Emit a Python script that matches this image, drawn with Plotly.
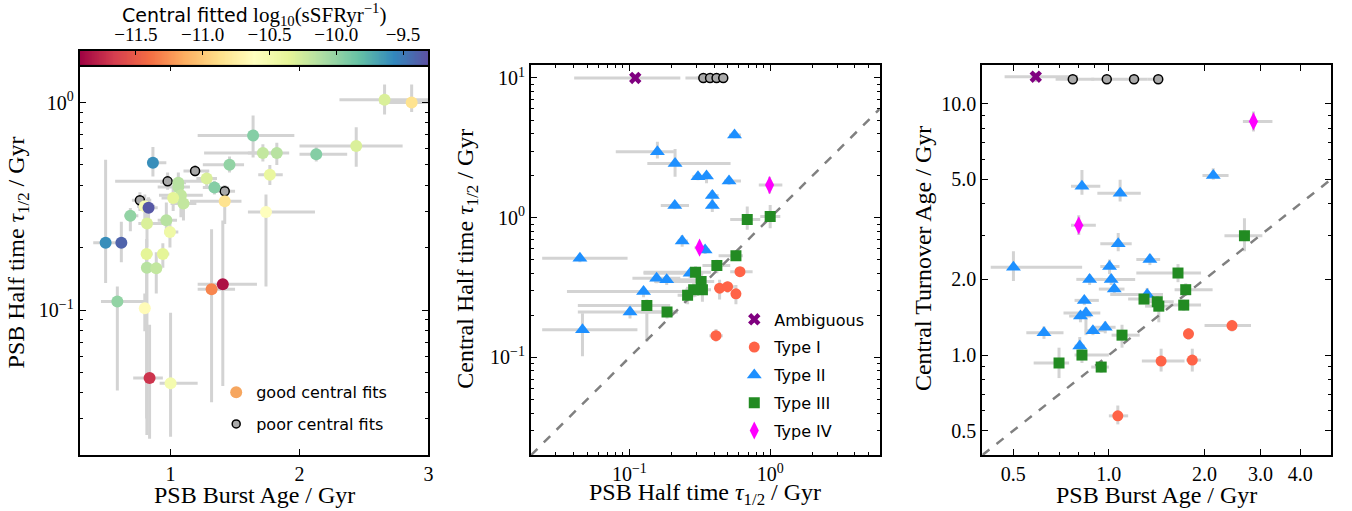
import numpy as np
import plotly.graph_objects as go

# ------------------------------------------------------------------ data
# Left panel: PSB burst age vs PSB half time, coloured by central sSFR (good fits)
left_age = [2.66, 2.87, 1.64, 1.716, 1.824, 2.13, 2.44, 0.863, 1.457, 1.77, 1.28, 1.74,
            1.06, 1.06, 1.08, 1.34, 1.42, 1.02, 1.10, 0.80, 0.829, 0.688, 0.817, 0.967,
            0.995, 0.496, 0.618, 0.814, 0.94, 0.816, 0.889, 1.318, 1.405, 0.587, 0.80,
            0.837, 1.00]
left_age_lo = [2.31, 2.62, 1.21, 1.26, 1.60, 2.00, 2.00, 0.82, 1.25, 1.68, 1.20, 1.60,
               0.92, 0.90, 0.91, 1.25, 1.15, 0.93, 1.00, 0.74, 0.76, 0.64, 0.75, 0.90,
               0.95, 0.40, 0.58, 0.78, 0.90, 0.78, 0.86, 1.21, 1.21, 0.46, 0.77,
               0.71, 0.915]
left_age_hi = [3.00, 3.05, 1.96, 1.85, 1.92, 2.37, 2.80, 0.967, 1.57, 1.87, 1.36, 2.12,
               1.12, 1.15, 1.25, 1.45, 1.55, 1.10, 1.20, 0.88, 0.90, 0.75, 0.95, 1.05,
               1.06, 0.60, 0.66, 0.86, 0.99, 0.86, 0.92, 1.50, 1.67, 0.81, 0.84,
               0.94, 1.21]
left_tau = [1.03, 1.00, 0.694, 0.571, 0.571, 0.563, 0.617, 0.513, 0.502, 0.449, 0.43, 0.297,
            0.411, 0.392, 0.357, 0.389, 0.334, 0.347, 0.326, 0.316, 0.311, 0.285, 0.261, 0.271,
            0.238, 0.211, 0.211, 0.186, 0.186, 0.160, 0.159, 0.126, 0.133, 0.110, 0.102,
            0.047, 0.0444]
left_tau_lo = [0.876, 0.90, 0.544, 0.52, 0.50, 0.52, 0.49, 0.44, 0.46, 0.40, 0.39, 0.13,
               0.37, 0.35, 0.28, 0.36, 0.26, 0.30, 0.27, 0.27, 0.27, 0.24, 0.20, 0.23,
               0.20, 0.135, 0.17, 0.03, 0.16, 0.025, 0.12, 0.036, 0.043, 0.041, 0.079,
               0.024, 0.0245]
left_tau_hi = [1.22, 1.22, 0.866, 0.63, 0.64, 0.61, 0.76, 0.61, 0.55, 0.50, 0.47, 0.36,
               0.46, 0.44, 0.40, 0.42, 0.40, 0.40, 0.37, 0.36, 0.35, 0.31, 0.30, 0.33,
               0.28, 0.53, 0.266, 0.22, 0.21, 0.19, 0.19, 0.245, 0.27, 0.13, 0.12,
               0.085, 0.097]
left_ssfr = [-10.30, -10.85, -9.95, -10.20, -10.15, -9.95, -10.30, -9.60, -10.00, -10.40, -10.30, -10.60,
             -10.15, -10.15, -10.20, -9.95, -10.85, -10.35, -10.20, -10.55, -9.35, -10.00, -10.30, -10.15,
             -10.45, -9.60, -9.40, -10.35, -10.35, -10.15, -10.20, -11.30, -11.85, -10.00, -10.65,
             -11.70, -10.50]
# Left panel: poor central fits
lp_age = [0.762, 0.977, 1.19, 1.42]
lp_age_lo = [0.70, 0.57, 1.10, 1.35]
lp_age_hi = [0.85, 1.25, 1.30, 1.50]
lp_tau = [0.338, 0.417, 0.468, 0.374]
lp_tau_lo = [0.30, 0.38, 0.44, 0.35]
lp_tau_hi = [0.37, 0.46, 0.50, 0.40]

# Middle panel: PSB half time vs central half time, per type
mid = {
    "Ambiguous": dict(x=[0.110], xlo=[0.0405], xhi=[0.23], y=[10.0], ylo=[10.0], yhi=[10.0]),
    "Type I": dict(x=[0.61, 0.437, 0.498, 0.571, 0.412],
                   xlo=[0.52, 0.40, 0.45, 0.54, 0.37], xhi=[0.75, 0.47, 0.56, 0.60, 0.46],
                   y=[0.411, 0.313, 0.321, 0.285, 0.143],
                   ylo=[0.38, 0.26, 0.29, 0.24, 0.13], yhi=[0.44, 0.36, 0.35, 0.33, 0.16]),
    "Type II": dict(x=[0.558, 0.158, 0.211, 0.307, 0.353, 0.51, 0.388, 0.388, 0.21, 0.237, 0.345,
                       0.0445, 0.156, 0.184, 0.27, 0.126, 0.101, 0.0464],
                    xlo=[0.51, 0.080, 0.134, 0.28, 0.33, 0.47, 0.36, 0.36, 0.167, 0.22, 0.32,
                         0.024, 0.105, 0.14, 0.126, 0.036, 0.043, 0.024],
                    xhi=[0.62, 0.207, 0.523, 0.33, 0.38, 0.62, 0.43, 0.42, 0.265, 0.26, 0.37,
                         0.097, 0.23, 0.30, 0.335, 0.27, 0.22, 0.114],
                    y=[3.90, 2.96, 2.44, 1.96, 1.99, 1.83, 1.44, 1.22, 1.22, 0.682, 0.588,
                       0.512, 0.368, 0.359, 0.40, 0.296, 0.211, 0.158],
                    ylo=[3.7, 2.65, 1.96, 1.85, 1.76, 1.72, 1.30, 1.10, 1.15, 0.62, 0.55,
                         0.48, 0.34, 0.33, 0.37, 0.27, 0.19, 0.102],
                    yhi=[4.2, 3.5, 3.1, 2.1, 2.13, 1.95, 1.58, 1.30, 1.30, 0.75, 0.63,
                         0.55, 0.40, 0.39, 0.43, 0.32, 0.23, 0.207]),
    "Type III": dict(x=[0.687, 1.0, 0.571, 0.418, 0.295, 0.323, 0.33, 0.286, 0.259, 0.133, 0.185],
                     xlo=[0.52, 0.85, 0.43, 0.33, 0.126, 0.15, 0.28, 0.25, 0.22, 0.043, 0.12],
                     xhi=[0.85, 1.18, 0.64, 0.52, 0.38, 0.40, 0.38, 0.33, 0.30, 0.195, 0.22],
                     y=[0.972, 1.02, 0.533, 0.454, 0.407, 0.349, 0.305, 0.305, 0.278, 0.235, 0.211],
                     ylo=[0.82, 0.84, 0.49, 0.40, 0.37, 0.30, 0.25, 0.27, 0.24, 0.13, 0.19],
                     yhi=[1.20, 1.23, 0.58, 0.50, 0.45, 0.40, 0.35, 0.34, 0.32, 0.26, 0.23]),
    "Type IV": dict(x=[0.99, 0.315], xlo=[0.83, 0.29], xhi=[1.22, 0.34],
                    y=[1.71, 0.61], ylo=[1.49, 0.56], yhi=[1.96, 0.67]),
}
mid_poor = dict(x=[0.335, 0.374, 0.416, 0.464], xlo=[0.25, 0.30, 0.36, 0.42], xhi=[0.40, 0.44, 0.46, 0.47],
                y=[10.0, 10.0, 10.0, 10.0], ylo=[10.0] * 4, yhi=[10.0] * 4)

# Right panel: PSB burst age vs central turnover age, per type
right = {
    "Ambiguous": dict(x=[0.589], xlo=[0.47], xhi=[0.80], y=[12.8], ylo=[12.2], yhi=[13.3]),
    "Type I": dict(x=[2.44, 1.78, 1.46, 1.83, 1.067],
                   xlo=[2.0, 1.72, 1.27, 1.75, 1.0], xhi=[2.8, 1.85, 1.73, 1.95, 1.15],
                   y=[1.31, 1.215, 0.946, 0.955, 0.573],
                   ylo=[1.24, 1.15, 0.86, 0.86, 0.53], yhi=[1.38, 1.28, 1.06, 1.06, 0.63]),
    "Type II": dict(x=[0.823, 1.085, 2.13, 1.07, 0.501, 1.346, 1.005, 0.87, 1.017, 1.04, 1.32,
                       0.837, 0.847, 0.814, 0.891, 0.974, 0.625, 0.81],
                    xlo=[0.76, 0.92, 1.97, 0.94, 0.425, 1.22, 0.94, 0.79, 0.92, 0.93, 1.01,
                         0.78, 0.72, 0.75, 0.84, 0.90, 0.55, 0.78],
                    xhi=[0.94, 1.26, 2.38, 1.18, 0.824, 1.45, 1.08, 0.96, 1.21, 1.12, 1.48,
                         0.93, 0.94, 0.88, 0.97, 1.05, 0.72, 0.84],
                    y=[4.69, 4.40, 5.18, 2.77, 2.235, 2.40, 2.25, 2.0, 2.0, 1.83, 1.74,
                       1.65, 1.47, 1.43, 1.25, 1.29, 1.226, 1.086],
                    ylo=[4.34, 4.08, 4.98, 2.59, 1.97, 2.28, 2.1, 1.9, 1.9, 1.75, 1.65,
                         1.58, 1.20, 1.35, 1.2, 1.22, 1.16, 1.0],
                    yhi=[5.45, 4.98, 5.53, 3.06, 2.59, 2.52, 2.4, 2.1, 2.1, 1.92, 1.85,
                         1.72, 1.55, 1.5, 1.3, 1.36, 1.30, 1.18]),
    "Type III": dict(x=[2.67, 1.65, 1.745, 1.29, 1.42, 1.436, 1.72, 1.10, 0.823, 0.697, 0.946],
                     xlo=[2.31, 1.22, 1.61, 1.15, 1.28, 1.3, 1.55, 1.02, 0.78, 0.58, 0.88],
                     xhi=[3.04, 1.95, 2.12, 1.45, 1.6, 1.55, 1.95, 1.25, 1.0, 0.75, 1.0],
                     y=[2.98, 2.12, 1.82, 1.67, 1.63, 1.565, 1.58, 1.20, 1.0, 0.93, 0.896],
                     ylo=[2.59, 1.95, 1.72, 1.6, 1.55, 1.35, 1.5, 1.07, 0.93, 0.81, 0.85],
                     yhi=[3.5, 2.3, 1.93, 1.75, 1.72, 1.65, 1.66, 1.32, 1.07, 1.07, 0.95]),
    "Type IV": dict(x=[2.85, 0.804], xlo=[2.64, 0.76], xhi=[3.27, 0.91],
                    y=[8.5, 3.28], ylo=[7.75, 3.0], yhi=[9.3, 3.6]),
}
right_poor = dict(x=[0.77, 0.985, 1.2, 1.43], xlo=[0.68, 0.88, 1.10, 1.32], xhi=[0.90, 1.10, 1.32, 1.45],
                  y=[12.5, 12.5, 12.5, 12.5], ylo=[12.5] * 4, yhi=[12.5] * 4)

# colour-bar limits and axis ranges
CMIN, CMAX = -11.92, -9.31
cb_ticks = [-11.5, -11.0, -10.5, -10.0, -9.5]
left_xrange = [0.295, 3.0]
left_yrange = [0.02, 1.51]
mid_xrange = [0.02, 6.0]
mid_yrange = [0.02, 12.3]
right_xrange = [0.4, 5.0]
right_yrange = [0.4, 14.2]

# ------------------------------------------------------------------ styling
W, H = 1352, 511
SERIF = "Liberation Serif"
SANS = "DejaVu Sans"
ECOL = "#d3d3d3"
SPECTRAL = [[0.0, "rgb(158,1,66)"], [0.1, "rgb(213,62,79)"], [0.2, "rgb(244,109,67)"],
            [0.3, "rgb(253,174,97)"], [0.4, "rgb(254,224,139)"], [0.5, "rgb(255,255,191)"],
            [0.6, "rgb(230,245,152)"], [0.7, "rgb(171,221,164)"], [0.8, "rgb(102,194,165)"],
            [0.9, "rgb(50,136,189)"], [1.0, "rgb(94,79,162)"]]
STY = {
    "Ambiguous": dict(symbol="x", color="#800080", size=11),
    "Type I": dict(symbol="circle", color="#ff6347", size=11),
    "Type II": dict(symbol="triangle-up", color="#1e90ff", size=13),
    "Type III": dict(symbol="square", color="#228b22", size=11),
    "Type IV": dict(symbol="diamond-tall", color="#ff00ff", size=13),
}


def py(p):
    return 1 - p / H


def err_trace(d, xa, ya):
    x = np.array(d["x"], float); y = np.array(d["y"], float)
    return go.Scatter(
        x=x, y=y, mode="markers", marker=dict(size=1, opacity=0), showlegend=False,
        hoverinfo="skip", xaxis=xa, yaxis=ya,
        error_x=dict(type="data", symmetric=False, array=np.array(d["xhi"]) - x,
                     arrayminus=x - np.array(d["xlo"]), color=ECOL, thickness=3, width=0),
        error_y=dict(type="data", symmetric=False, array=np.array(d["yhi"]) - y,
                     arrayminus=y - np.array(d["ylo"]), color=ECOL, thickness=3, width=0))


fig = go.Figure()

# ---- left panel
left = dict(x=left_age, xlo=left_age_lo, xhi=left_age_hi, y=left_tau, ylo=left_tau_lo, yhi=left_tau_hi)
lpoor = dict(x=lp_age, xlo=lp_age_lo, xhi=lp_age_hi, y=lp_tau, ylo=lp_tau_lo, yhi=lp_tau_hi)
fig.add_trace(err_trace(left, "x", "y"))
fig.add_trace(err_trace(lpoor, "x", "y"))
fig.add_trace(go.Scatter(x=lp_age, y=lp_tau, mode="markers", xaxis="x", yaxis="y", showlegend=False,
                         marker=dict(size=9, color="#a9a9a9", line=dict(color="black", width=1.5))))
fig.add_trace(go.Scatter(x=left_age, y=left_tau, mode="markers", xaxis="x", yaxis="y", showlegend=False,
                         marker=dict(size=12, color=left_ssfr, colorscale=SPECTRAL, cmin=CMIN, cmax=CMAX,
                                     line=dict(width=0))))
# legend entries for left panel
fig.add_trace(go.Scatter(x=[None], y=[None], mode="markers", name="good central fits", legend="legend2",
                         legendgroup="g1", xaxis="x", yaxis="y",
                         marker=dict(size=12, color="#f6a65f")))
fig.add_trace(go.Scatter(x=[None], y=[None], mode="markers", name="poor central fits", legend="legend2",
                         legendgroup="g2", xaxis="x", yaxis="y",
                         marker=dict(size=8, color="#a9a9a9", line=dict(color="black", width=1.5))))

# ---- middle & right panels
for dset, poor, xa, ya, xr, yr, show in [(mid, mid_poor, "x2", "y2", mid_xrange, mid_yrange, True),
                                          (right, right_poor, "x3", "y3", right_xrange, right_yrange, False)]:
    for k in dset:
        fig.add_trace(err_trace(dset[k], xa, ya))
    fig.add_trace(err_trace(poor, xa, ya))
    lo = max(xr[0], yr[0]); hi = min(xr[1], yr[1])
    fig.add_trace(go.Scatter(x=[lo, hi], y=[lo, hi], mode="lines", xaxis=xa, yaxis=ya, showlegend=False,
                             hoverinfo="skip", line=dict(color="#808080", width=2.5, dash="dash")))
    fig.add_trace(go.Scatter(x=poor["x"], y=poor["y"], mode="markers", xaxis=xa, yaxis=ya, showlegend=False,
                             marker=dict(size=9, color="#a9a9a9", line=dict(color="black", width=1.5))))
    for i, k in enumerate(dset):
        s = STY[k]
        fig.add_trace(go.Scatter(x=dset[k]["x"], y=dset[k]["y"], mode="markers", name=k, xaxis=xa, yaxis=ya,
                                 showlegend=show, legend="legend", legendgroup="m%d" % i,
                                 marker=dict(symbol=s["symbol"], color=s["color"], size=s["size"],
                                             line=dict(width=0))))

# ---- colour bar (drawn as a heat strip on its own axis)
grad = np.linspace(CMIN, CMAX, 400)
fig.add_trace(go.Heatmap(x=grad, y=[0.5], z=[grad], colorscale=SPECTRAL, zmin=CMIN, zmax=CMAX,
                         showscale=False, xaxis="x4", yaxis="y4", hoverinfo="skip"))

# ------------------------------------------------------------------ axes
TF = dict(family=SERIF, size=20, color="black")


def base(**kw):
    d = dict(showline=True, linecolor="black", linewidth=2, mirror="allticks", ticks="inside", ticklen=6,
             tickwidth=1.3, tickcolor="black", showgrid=False, zeroline=False, tickfont=TF)
    d.update(kw)
    return d


def minor(vals):
    return dict(tickvals=vals, ticks="inside", ticklen=3, tickwidth=1, tickcolor="black", showgrid=False)


m_small = [0.02, 0.03, 0.04, 0.05, 0.06, 0.07, 0.08, 0.09, 0.2, 0.3, 0.4, 0.5, 0.6, 0.7, 0.8, 0.9,
           2, 3, 4, 5, 6, 7, 8, 9]
dy = [py(455), py(64.5)]
lay = dict(
    width=W, height=H, margin=dict(l=0, r=0, t=0, b=0), paper_bgcolor="white", plot_bgcolor="white",
    xaxis=base(domain=[80 / W, 430 / W], range=left_xrange, tickvals=[1, 2, 3], ticktext=["1", "2", "3"],
               anchor="y"),
    yaxis=base(domain=dy, type="log", range=[np.log10(v) for v in left_yrange], tickvals=[0.1, 1],
               ticktext=["10<sup>−1</sup>", "10<sup>0</sup>"], minor=minor(m_small[:16]), anchor="x"),
    xaxis2=base(domain=[533 / W, 883 / W], type="log", range=[np.log10(v) for v in mid_xrange],
                tickvals=[0.1, 1], ticktext=["10<sup>−1</sup>", "10<sup>0</sup>"], minor=minor(m_small),
                anchor="y2"),
    yaxis2=base(domain=dy, type="log", range=[np.log10(v) for v in mid_yrange], tickvals=[0.1, 1, 10],
                ticktext=["10<sup>−1</sup>", "10<sup>0</sup>", "10<sup>1</sup>"], minor=minor(m_small + [20]),
                anchor="x2"),
    xaxis3=base(domain=[986 / W, 1336 / W], type="log", range=[np.log10(v) for v in right_xrange],
                tickvals=[0.5, 1, 2, 3, 4], ticktext=["0.5", "1.0", "2.0", "3.0", "4.0"],
                minor=minor([0.6, 0.7, 0.8, 0.9]), anchor="y3"),
    yaxis3=base(domain=dy, type="log", range=[np.log10(v) for v in right_yrange],
                tickvals=[0.5, 1, 2, 5, 10], ticktext=["0.5", "1.0", "2.0", "5.0", "10.0"],
                minor=minor([0.6, 0.7, 0.8, 0.9, 3, 4, 6, 7, 8, 9]), anchor="x3"),
    xaxis4=dict(domain=[80 / W, 430 / W], range=[CMIN, CMAX], side="top", anchor="y4", showline=True,
                linecolor="black", linewidth=2, mirror=True, ticks="inside", ticklen=4, tickwidth=1.2,
                tickcolor="black", tickvals=cb_ticks, ticktext=["−11.5", "−11.0", "−10.5", "−10.0", "−9.5"],
                tickfont=dict(family=SERIF, size=19, color="black"), showgrid=False, zeroline=False),
    yaxis4=dict(domain=[py(64.5), py(50)], range=[0, 1], anchor="x4", showline=True, linecolor="black",
                linewidth=2, mirror=True, ticks="", showticklabels=False, showgrid=False, zeroline=False),
    legend=dict(x=737 / W, y=py(302), xanchor="left", yanchor="top", bgcolor="rgba(0,0,0,0)",
                font=dict(family=SANS, size=16, color="black"), tracegroupgap=4, itemwidth=30),
    legend2=dict(x=217 / W, y=py(375), xanchor="left", yanchor="top", bgcolor="rgba(0,0,0,0)",
                 font=dict(family=SANS, size=16, color="black"), tracegroupgap=8, itemwidth=30),
)
fig.update_layout(**lay)

# ------------------------------------------------------------------ titles
AF = dict(family=SERIF, size=24, color="black")
tau = "<i>τ</i><sub>1/2</sub>"
ann = [
    ("PSB Burst Age / Gyr", 255, 495, 0),
    ("PSB Half time " + tau + " / Gyr", 708, 494, 0),
    ("PSB Burst Age / Gyr", 1161, 495, 0),
    ("PSB Half time " + tau + " / Gyr", 18, 252, -90),
    ("Central Half time " + tau + " / Gyr", 469, 258, -90),
    ("Central Turnover Age / Gyr", 927, 258, -90),
]
for t, x, y, a in ann:
    fig.add_annotation(text=t, x=x / W, y=py(y), xref="paper", yref="paper", showarrow=False,
                       xanchor="center", yanchor="middle", textangle=a, font=AF)
fig.add_annotation(text='<span style="font-family:DejaVu Sans;font-size:19px">Central fitted</span> '
                        'log<sub>10</sub>(sSFRyr<sup>−1</sup>)',
                   x=255 / W, y=1.0, xref="paper", yref="paper", showarrow=False, yshift=3,
                   xanchor="center", yanchor="top", font=dict(family=SERIF, size=21, color="black"))

fig.write_html("out.html")
